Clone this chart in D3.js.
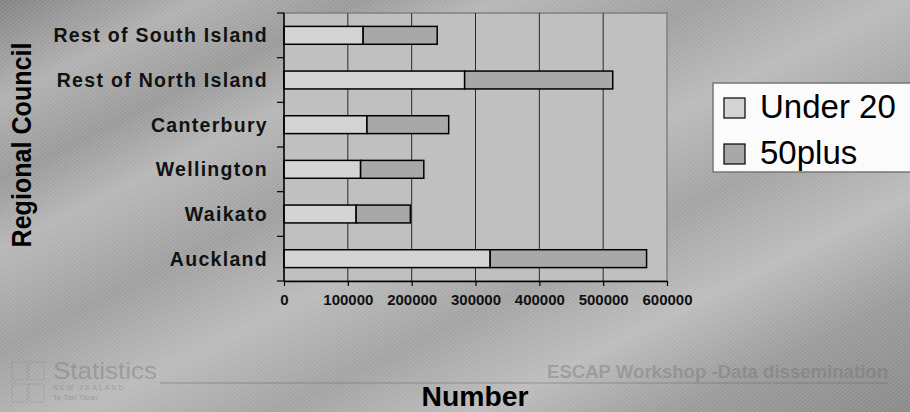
<!DOCTYPE html>
<html>
<head>
<meta charset="utf-8">
<script src="https://cdn.jsdelivr.net/npm/d3@7"></script>
<style>
  html, body { margin: 0; padding: 0; background: #a8a8a8; }
  svg { display: block; }
  text { font-family: "Liberation Sans", Arial, sans-serif; }
</style>
</head>
<body>
<div id="chart"></div>
<script>
// Population by regional council, split by age group (bottom to top)
const categories = ["Auckland", "Waikato", "Wellington", "Canterbury", "Rest of North Island", "Rest of South Island"];
const under20 = [323000, 113000, 120000, 130000, 283000, 124000];
const plus50  = [245000,  85000,  99000, 128000, 232000, 116000];
const seriesNames = ["Under 20", "50plus"];
const xTicks = [0, 100000, 200000, 300000, 400000, 500000, 600000];

const W = 910, H = 412;
const plot = { left: 284, right: 667, top: 13, bottom: 281 };
const colors = { "Under 20": "#d4d4d4", "50plus": "#a8a8a8" };

const svg = d3.select("#chart").append("svg")
  .attr("width", W).attr("height", H);

const defs = svg.append("defs");

// slide background: diagonal grey sweep with fine hatching
const grad = defs.append("linearGradient")
  .attr("id", "bg").attr("gradientUnits", "userSpaceOnUse")
  .attr("x1", 0).attr("y1", 0).attr("x2", 400).attr("y2", 800);
[[0, "#828282"], [0.1, "#b0b0b0"], [0.18, "#999999"], [0.25, "#b6b6b6"],
 [0.35, "#9e9e9e"], [0.45, "#bababa"], [0.55, "#a2a2a2"], [0.65, "#bcbcbc"],
 [0.75, "#9a9a9a"], [0.87, "#888888"]]
  .forEach(([o, c]) => grad.append("stop").attr("offset", o).attr("stop-color", c));

const hatch = defs.append("pattern")
  .attr("id", "hatch").attr("patternUnits", "userSpaceOnUse")
  .attr("width", 3).attr("height", 3)
  .attr("patternTransform", "rotate(-40)");
hatch.append("rect").attr("width", 3).attr("height", 1).attr("fill", "#ffffff").attr("opacity", 0.13);

svg.append("rect").attr("width", W).attr("height", H).attr("fill", "url(#bg)");
svg.append("rect").attr("width", W).attr("height", H).attr("fill", "url(#hatch)");

// faint slide footer
const footer = svg.append("g").attr("opacity", 0.35).attr("fill", "#6a6a6a");
footer.append("text").attr("x", 547).attr("y", 378)
  .attr("font-size", 18).attr("font-weight", "bold")
  .attr("textLength", 341).attr("lengthAdjust", "spacingAndGlyphs")
  .text("ESCAP Workshop -Data dissemination");
footer.append("line").attr("x1", 160).attr("x2", 888).attr("y1", 383).attr("y2", 383)
  .attr("stroke", "#6a6a6a").attr("stroke-width", 1.5);
footer.append("text").attr("x", 53).attr("y", 379)
  .attr("font-size", 24).attr("textLength", 104).attr("lengthAdjust", "spacingAndGlyphs")
  .text("Statistics");
footer.append("text").attr("x", 53).attr("y", 390)
  .attr("font-size", 7).attr("letter-spacing", 2).text("NEW ZEALAND");
footer.append("text").attr("x", 53).attr("y", 400)
  .attr("font-size", 8).text("Te Tari Tatau");
const logo = footer.append("g").attr("fill", "none").attr("stroke", "#6a6a6a").attr("stroke-dasharray", "1.5,1.5");
[[12, 362], [29, 362], [12, 384], [29, 384]].forEach(([x, y]) =>
  logo.append("rect").attr("x", x).attr("y", y).attr("width", 15).attr("height", 18));

// scales
const x = d3.scaleLinear().domain([0, 600000]).range([plot.left, plot.right]);
const y = d3.scaleBand().domain(categories.slice().reverse())
  .range([plot.top, plot.bottom]).paddingInner(0.6).paddingOuter(0.3);
const yBounds = d3.scaleLinear().domain([0, categories.length]).range([plot.top, plot.bottom]);

// plot area
svg.append("rect")
  .attr("x", plot.left).attr("y", plot.top)
  .attr("width", plot.right - plot.left).attr("height", plot.bottom - plot.top)
  .attr("fill", "#c0c0c0").attr("stroke", "#808080").attr("stroke-width", 1.5);

// vertical gridlines
svg.append("g").selectAll("line")
  .data(xTicks.slice(1, -1)).join("line")
  .attr("x1", d => x(d)).attr("x2", d => x(d))
  .attr("y1", plot.top).attr("y2", plot.bottom)
  .attr("stroke", "#2a2a2a").attr("stroke-width", 1);

// stacked bars
const rows = categories.map((c, i) => ({ cat: c, "Under 20": under20[i], "50plus": plus50[i] }));
const stacked = d3.stack().keys(seriesNames)(rows);
svg.append("g").selectAll("g")
  .data(stacked).join("g")
  .attr("fill", d => colors[d.key])
  .selectAll("rect").data(d => d).join("rect")
  .attr("x", d => x(d[0]))
  .attr("y", d => y(d.data.cat))
  .attr("width", d => x(d[1]) - x(d[0]))
  .attr("height", y.bandwidth())
  .attr("stroke", "#000").attr("stroke-width", 1.5);

// x axis
const xAxis = svg.append("g").attr("transform", `translate(0,${plot.bottom})`)
  .call(d3.axisBottom(x).tickValues(xTicks).tickFormat(d3.format("d")).tickSize(5).tickSizeOuter(0));
xAxis.select(".domain").attr("stroke", "#000").attr("stroke-width", 1.5);
xAxis.selectAll(".tick line").attr("stroke", "#000").attr("stroke-width", 1.2);
xAxis.selectAll("text")
  .attr("y", 13).attr("dy", "0.71em")
  .attr("font-family", "Liberation Sans, Arial, sans-serif")
  .attr("font-size", 15).attr("font-weight", "bold").attr("fill", "#111");

// y axis line with category-boundary ticks
const yAxis = svg.append("g");
yAxis.append("line")
  .attr("x1", plot.left).attr("x2", plot.left)
  .attr("y1", plot.top).attr("y2", plot.bottom)
  .attr("stroke", "#000").attr("stroke-width", 1.5);
yAxis.selectAll("line.tick")
  .data(d3.range(categories.length + 1)).join("line").attr("class", "tick")
  .attr("x1", plot.left - 7).attr("x2", plot.left)
  .attr("y1", d => yBounds(d)).attr("y2", d => yBounds(d))
  .attr("stroke", "#000").attr("stroke-width", 1.2);
yAxis.selectAll("text")
  .data(categories).join("text")
  .attr("x", 268).attr("y", d => y(d) + y.bandwidth() / 2)
  .attr("dy", "0.36em").attr("text-anchor", "end")
  .attr("font-size", 19.5).attr("font-weight", "bold").attr("letter-spacing", 1.3)
  .attr("fill", "#111")
  .text(d => d);

// axis titles
svg.append("text")
  .attr("transform", "translate(31,145) rotate(-90)")
  .attr("text-anchor", "middle")
  .attr("font-size", 27).attr("font-weight", "bold")
  .attr("textLength", 205).attr("lengthAdjust", "spacingAndGlyphs")
  .attr("fill", "#000")
  .text("Regional Council");
svg.append("text")
  .attr("x", 475).attr("y", 406).attr("text-anchor", "middle")
  .attr("font-size", 27).attr("font-weight", "bold")
  .attr("textLength", 107).attr("lengthAdjust", "spacingAndGlyphs")
  .attr("fill", "#000")
  .text("Number");

// legend
const legend = svg.append("g");
legend.append("rect")
  .attr("x", 713).attr("y", 83).attr("width", 210).attr("height", 89)
  .attr("fill", "#fbfbfb").attr("stroke", "#777").attr("stroke-width", 1.5);
const items = legend.selectAll("g.item").data(seriesNames).join("g").attr("class", "item")
  .attr("transform", (d, i) => `translate(724,${98 + i * 46})`);
items.append("rect")
  .attr("width", 21).attr("height", 20)
  .attr("fill", d => colors[d]).attr("stroke", "#000").attr("stroke-width", 1.2);
items.append("text")
  .attr("x", 36).attr("y", 19.5)
  .attr("font-size", 33).attr("fill", "#000")
  .text(d => d);
</script>
</body>
</html>
